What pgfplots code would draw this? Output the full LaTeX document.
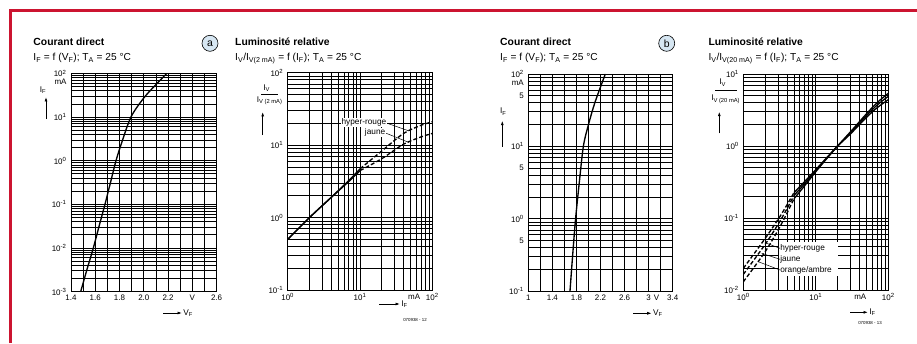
\documentclass[border=0pt]{standalone}
\usepackage{fontspec}
\setmainfont{Liberation Sans}
\usepackage{pgfplots}
\pgfplotsset{compat=1.18}
\usetikzlibrary{arrows.meta}
\definecolor{frameRed}{RGB}{204,20,48}
\definecolor{circBlue}{RGB}{214,230,242}
\newcommand{\sub}[1]{\textsubscript{#1}}
\newcommand{\sps}[1]{\textsuperscript{#1}}
\def\mnA{0.002,0.003,0.004,0.005,0.006,0.007,0.008,0.009}
\def\mnB{0.02,0.03,0.04,0.05,0.06,0.07,0.08,0.09}
\def\mnC{0.2,0.3,0.4,0.5,0.6,0.7,0.8,0.9}
\def\mnD{2,3,4,5,6,7,8,9}
\def\mnE{20,30,40,50,60,70,80,90}
\pgfplotsset{
  every axis/.append style={
    scale only axis,
    anchor=south west,
    axis line style={line width=0.9pt},
    grid=both,
    major grid style={black, line width=0.7pt},
    minor grid style={black, line width=0.7pt},
    major tick length=0pt, minor tick length=0pt,
    tick label style={font=\fontsize{8}{9}\selectfont},
    yticklabel style={xshift=-1pt},
    extra x tick style={grid=none},
    extra y tick style={grid=none},
  },
  curve/.style={black, line width=1.35pt, no marks, smooth, tension=0.5},
  dcurve/.style={black, line width=1.35pt, no marks, dash pattern=on 4pt off 2.2pt, smooth, tension=0.5},
}
\tikzset{lab/.style={font=\fontsize{8.3}{9}\selectfont, inner sep=0.6pt},
         arr/.style={line width=0.8pt, -{Latex[length=4.5pt,width=3pt]}}}
\begin{document}
\begin{tikzpicture}[x=1bp,y=1bp]
\path[use as bounding box, fill=white] (0,0) rectangle (917,343);
\draw[frameRed, line width=2.5bp] (10.5,0) -- (10.5,332.5) -- (917,332.5);

% ---------- titles ----------
\begin{scope}[every node/.style={anchor=base west, inner sep=0pt}]
\node[font=\bfseries\fontsize{10.4}{12}\selectfont] at (33.3,298) {Courant direct};
\node[font=\fontsize{10.2}{12}\selectfont] at (33.3,282.3) {I\sub{F} = f (V\sub{F}); T\sub{A} = 25 °C};
\node[font=\bfseries\fontsize{10.4}{12}\selectfont] at (235,298) {Luminosité relative};
\node[font=\fontsize{10.2}{12}\selectfont] at (235,282.3) {I\sub{V}/I\sub{V(2 mA)} = f (I\sub{F}); T\sub{A} = 25 °C};
\node[font=\bfseries\fontsize{10.4}{12}\selectfont] at (500,298) {Courant direct};
\node[font=\fontsize{10.2}{12}\selectfont] at (500,282.3) {I\sub{F} = f (V\sub{F}); T\sub{A} = 25 °C};
\node[font=\bfseries\fontsize{10.4}{12}\selectfont] at (708.3,298) {Luminosité relative};
\node[font=\fontsize{10.2}{12}\selectfont] at (708.3,282.3) {I\sub{V}/I\sub{V(20 mA)} = f (I\sub{F}); T\sub{A} = 25 °C};
\end{scope}
\node[circle, draw, line width=0.6pt, fill=circBlue, minimum size=16bp, inner sep=0pt, font=\fontsize{10.5}{12}\selectfont] at (210,299.7) {a};
\node[circle, draw, line width=0.6pt, fill=circBlue, minimum size=16bp, inner sep=0pt, font=\fontsize{10.5}{12}\selectfont] at (666.7,299.7) {b};

% ---------- panel 1 ----------
\begin{axis}[at={(71bp,51.4bp)}, width=145.6bp, height=218.2bp,
  xmin=1.4, xmax=2.6, ymode=log, ymin=1e-3, ymax=100,
  xtick={1.4,1.6,1.8,2.0,2.2,2.4,2.6}, xticklabels={1.4,1.6,1.8,2.0,2.2,V,2.6},
  minor xtick={1.5,1.7,1.9,2.1,2.3,2.5},
  ytick={0.001,0.01,0.1,1,10,100},
  yticklabels={10\sps{-3},10\sps{-2},10\sps{-1},10\sps{0},10\sps{1},10\sps{2}},
  minor ytick/.expanded={\mnA,\mnB,\mnC,\mnD,\mnE},
  extra y ticks={65}, extra y tick labels={mA}]
\addplot[curve] coordinates {(1.48,0.001) (1.53,0.0031) (1.584,0.01) (1.632,0.032) (1.680,0.1) (1.726,0.32) (1.771,1) (1.818,2.6) (1.894,10) (1.996,26.5) (2.09,52) (2.19,100)};
\end{axis}
\node[lab, anchor=center] at (43,253) {I\sub{F}};
\draw[arr] (46,224) -- (46,246);
\draw[arr] (163,30) -- (182,30);
\node[lab, anchor=west] at (182.5,30) {V\sub{F}};

% ---------- panel 2 ----------
\begin{axis}[at={(287.7bp,53bp)}, width=144.6bp, height=217.3bp,
  xmode=log, ymode=log, xmin=1, xmax=100, ymin=0.1, ymax=100,
  xtick={1,10,100}, xticklabels={10\sps{0},10\sps{1},10\sps{2}},
  minor xtick/.expanded={\mnD,\mnE},
  ytick={0.1,1,10,100}, yticklabels={10\sps{-1},10\sps{0},10\sps{1},10\sps{2}},
  minor ytick/.expanded={\mnC,\mnD,\mnE},
  extra x ticks={56}, extra x tick labels={mA}]
\addplot[curve] coordinates {(1,0.5) (2,1.0) (4,1.9) (7,3.25) (10,4.7)};
\addplot[curve] coordinates {(1,0.5) (2,1.0) (4,1.9) (7,3.15) (10,4.45)};
\addplot[dcurve] coordinates {(10,4.7) (20,8.3) (40,14.5) (70,18.8) (100,21)};
\addplot[dcurve] coordinates {(10,4.45) (20,6.5) (40,10.3) (70,13) (100,14.5)};
\end{axis}
\node[lab, fill=white, anchor=east] at (387,220.3) {hyper-rouge};
\node[lab, fill=white, anchor=east] at (386,210.3) {jaune};
\draw[line width=0.5pt] (387.3,219.7) -- (408.3,212.3);
\draw[line width=0.5pt] (386.3,209.7) -- (409,200.5);
\node[lab, anchor=center] at (266.7,255) {I\sub{V}};
\draw[line width=0.5pt] (261,249) -- (278.3,249);
\node[lab, anchor=center] at (269.7,242.5) {I\sub{V (2 mA)}};
\draw[arr] (262.7,208) -- (262.7,231);
\draw[arr] (379.3,39) -- (400,39);
\node[lab, anchor=west] at (400.5,39) {I\sub{F}};
\node[font=\fontsize{4.4}{5}\selectfont] at (415,23) {070938 - 12};

% ---------- panel 3 ----------
\begin{axis}[at={(528.3bp,52bp)}, width=144.4bp, height=217bp,
  xmin=1, xmax=3.4, ymode=log, ymin=0.1, ymax=100,
  xtick={1,1.4,1.8,2.2,2.6,3,3.4}, xticklabels={1,1.4,1.8,2.2,2.6,3,3.4},
  minor xtick={1.2,1.6,2.0,2.4,2.8,3.2},
  ytick={0.1,0.5,1,5,10,50,100},
  yticklabels={10\sps{-1},5,10\sps{0},5,10\sps{1},5,10\sps{2}},
  minor ytick/.expanded={\mnC,\mnD,\mnE},
  extra x ticks={3.13}, extra x tick labels={V},
  extra y ticks={75}, extra y tick labels={mA}]
\addplot[curve] coordinates {(1.693,0.1) (1.738,0.32) (1.786,1) (1.848,3.2) (1.915,10) (2.0,20) (2.11,41) (2.28,100)};
\end{axis}
\node[lab, anchor=center] at (503.3,231.3) {I\sub{F}};
\draw[arr] (502.3,196.3) -- (502.3,222.3);
\draw[arr] (633.3,29.7) -- (651.7,29.7);
\node[lab, anchor=west] at (652.2,29.7) {V\sub{F}};

% ---------- panel 4 ----------
\begin{axis}[at={(743.3bp,53bp)}, width=145bp, height=216bp,
  xmode=log, ymode=log, xmin=1, xmax=100, ymin=0.01, ymax=10,
  xtick={1,10,100}, xticklabels={10\sps{0},10\sps{1},10\sps{2}},
  minor xtick/.expanded={\mnD,\mnE},
  ytick={0.01,0.1,1,10}, yticklabels={10\sps{-2},10\sps{-1},10\sps{0},10\sps{1}},
  minor ytick/.expanded={\mnB,\mnC,\mnD},
  extra x ticks={41}, extra x tick labels={mA}]
\addplot[dcurve] coordinates {(1,0.020) (2,0.052) (3.3,0.11) (5,0.225)};
\addplot[dcurve] coordinates {(1,0.0165) (2,0.043) (3.3,0.095) (5,0.205)};
\addplot[dcurve] coordinates {(1,0.013) (2,0.034) (3.3,0.08) (5,0.185)};
\addplot[curve] coordinates {(5,0.225) (7,0.32) (10,0.47) (14,0.68) (20,1.0) (30,1.47) (50,2.5) (70,3.4) (100,4.4)};
\addplot[curve] coordinates {(5,0.205) (7,0.30) (10,0.455) (14,0.67) (20,1.0) (30,1.52) (50,2.65) (70,3.7) (100,4.9)};
\addplot[curve] coordinates {(5,0.185) (7,0.28) (10,0.44) (14,0.66) (20,1.0) (30,1.57) (50,2.8) (70,4.0) (100,5.4)};
\end{axis}
\fill[white] (778.5,67.5) rectangle (838,101.5);
\node[lab, anchor=west] at (779.5,94.7) {hyper-rouge};
\node[lab, anchor=west] at (779.5,83.7) {jaune};
\node[lab, anchor=west] at (779.5,73) {orange/ambre};
\draw[line width=0.5pt] (780,94.7) -- (765,100.3);
\draw[line width=0.5pt] (780,83.7) -- (761.7,89.7);
\draw[line width=0.5pt] (780,73) -- (758.3,81.3);
\node[lab, anchor=center] at (722.7,260.3) {I\sub{V}};
\draw[line width=0.5pt] (715,252.3) -- (736.7,252.3);
\node[lab, anchor=center] at (725.7,243.7) {I\sub{V (20 mA)}};
\draw[arr] (719.3,209.7) -- (719.3,231.3);
\draw[arr] (850,30.7) -- (868,30.7);
\node[lab, anchor=west] at (868.5,30.7) {I\sub{F}};
\node[font=\fontsize{4.4}{5}\selectfont] at (870,20.3) {070938 - 13};
\end{tikzpicture}
\end{document}
